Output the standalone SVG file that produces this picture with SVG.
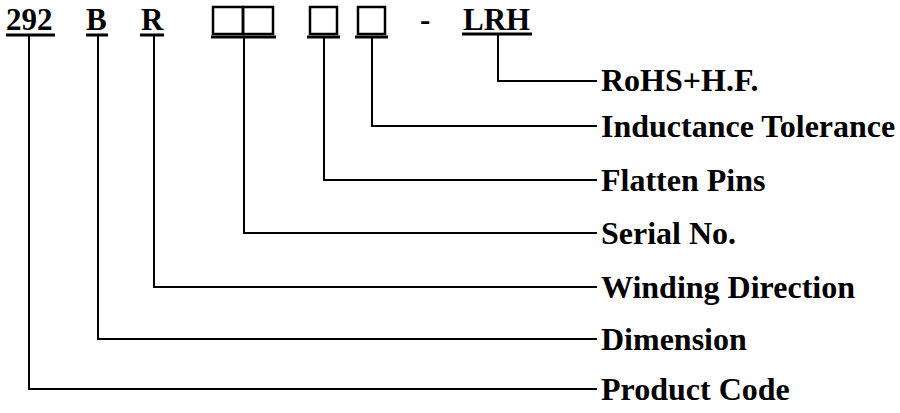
<svg xmlns="http://www.w3.org/2000/svg" width="900" height="413" viewBox="0 0 900 413">
<style>
.t{font-family:"Liberation Serif","Times New Roman",serif;font-weight:bold;font-size:31px;fill:#000}
.lb{font-size:32px}
.ul{stroke:#000;stroke-width:3;fill:none}
.bx{stroke:#000;stroke-width:2.5;fill:none}
.c{stroke:#000;stroke-width:2;fill:none}
</style>
<rect width="900" height="413" fill="#fff"/>
<g id="code">
  <g id="n292"><text class="t" x="6" y="30">292</text><line class="ul" x1="6" y1="35" x2="55" y2="35"/></g>
  <g id="nB"><text class="t" x="86" y="30">B</text><line class="ul" x1="86" y1="35" x2="108" y2="35"/></g>
  <g id="nR"><text class="t" x="141" y="30">R</text><line class="ul" x1="140" y1="35" x2="164" y2="35"/></g>
  <g id="nSerial"><rect class="bx" x="213" y="7" width="30" height="27"/><rect class="bx" x="243" y="7" width="30" height="27"/><line class="ul" x1="211" y1="37" x2="276" y2="37"/></g>
  <g id="nFlat"><rect class="bx" x="310" y="7" width="27" height="27"/><line class="ul" x1="307" y1="37" x2="340" y2="37"/></g>
  <g id="nTol"><rect class="bx" x="358" y="7" width="27" height="27"/><line class="ul" x1="355" y1="37" x2="388" y2="37"/></g>
  <g id="nDash"><text class="t" x="420" y="30">-</text></g>
  <g id="nLRH"><text class="t" x="463" y="30">LRH</text><line class="ul" x1="462" y1="34" x2="532" y2="34"/></g>
</g>
<g id="connectors">
  <polyline class="c" points="498,35 498,81 597,81"/>
  <polyline class="c" points="372,37 372,126 597,126"/>
  <polyline class="c" points="324,37 324,180 597,180"/>
  <polyline class="c" points="244,37 244,233 597,233"/>
  <polyline class="c" points="154,35 154,287 597,287"/>
  <polyline class="c" points="98,35 98,339 597,339"/>
  <polyline class="c" points="29,35 29,389 597,389"/>
</g>
<g id="l1"><text class="t lb" x="601" y="91">RoHS+H.F.</text></g>
<g id="l2"><text class="t lb" x="601" y="137">Inductance Tolerance</text></g>
<g id="l3"><text class="t lb" x="601" y="191">Flatten Pins</text></g>
<g id="l4"><text class="t lb" x="601" y="244">Serial No.</text></g>
<g id="l5"><text class="t lb" x="601" y="298">Winding Direction</text></g>
<g id="l6"><text class="t lb" x="601" y="350">Dimension</text></g>
<g id="l7"><text class="t lb" x="601" y="400">Product Code</text></g>
</svg>
